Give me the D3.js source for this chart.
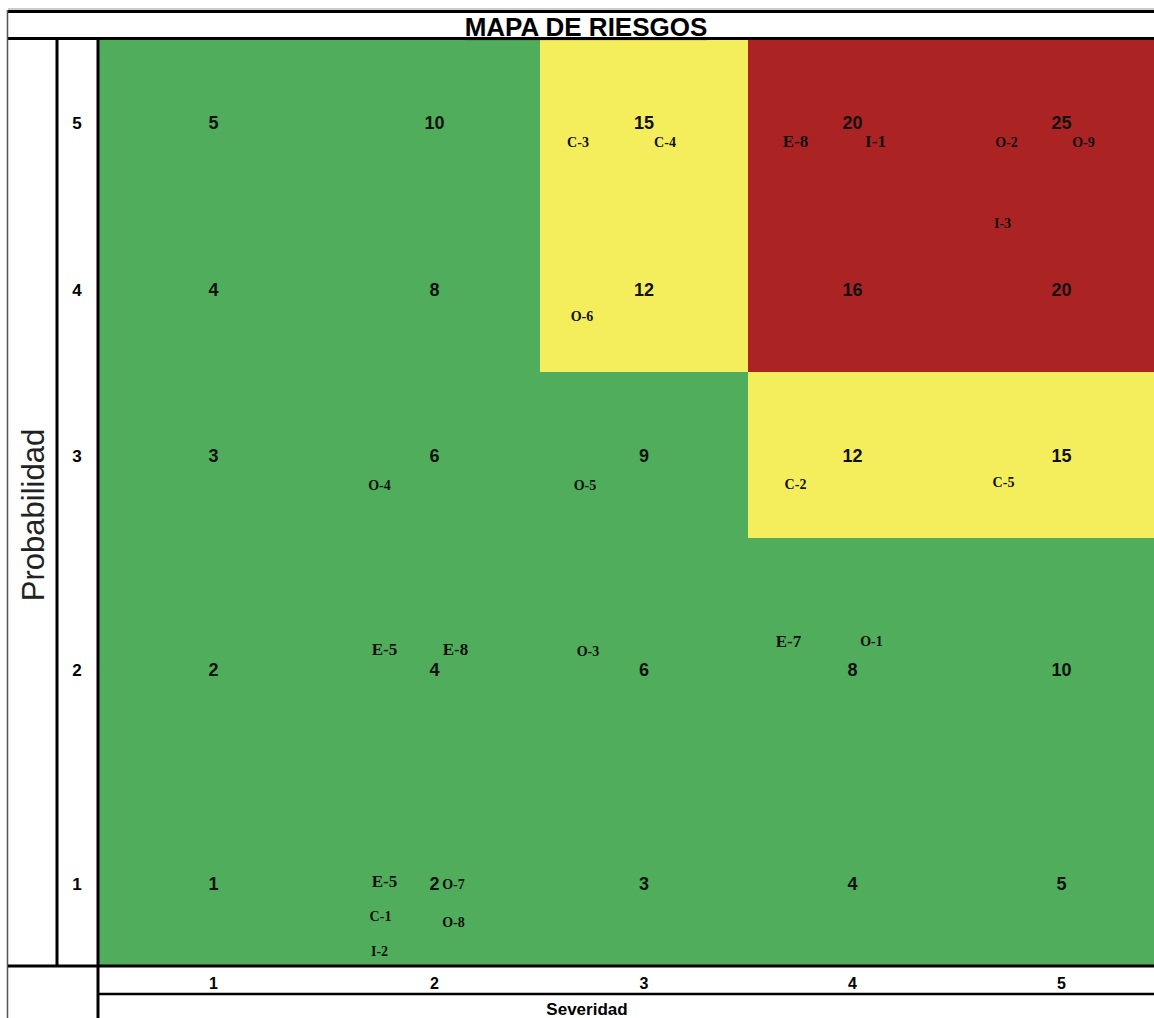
<!DOCTYPE html>
<html>
<head>
<meta charset="utf-8">
<script src="https://cdn.jsdelivr.net/npm/d3@7"></script>
<style>
  html, body { margin: 0; padding: 0; background: #fff; }
  svg { display: block; }
</style>
</head>
<body>
<svg id="chart" width="1154" height="1018"></svg>
<script>
// datos del mapa
var title = 'MAPA DE RIESGOS';
var xTitle = 'Severidad';
var yTitle = 'Probabilidad';
var severities = [1, 2, 3, 4, 5];
var probabilities = [5, 4, 3, 2, 1];   // de arriba a abajo
var zoneLimits = [11, 16];             // <=10 verde, 12-15 amarillo, >=16 rojo

var risks = [
	{code: 'C-3', sev: 3, prob: 5}, {code: 'C-4', sev: 3, prob: 5},
	{code: 'E-8', sev: 4, prob: 5}, {code: 'I-1', sev: 4, prob: 5},
	{code: 'O-2', sev: 5, prob: 5}, {code: 'O-9', sev: 5, prob: 5}, {code: 'I-3', sev: 5, prob: 5},
	{code: 'O-6', sev: 3, prob: 4},
	{code: 'O-4', sev: 2, prob: 3}, {code: 'O-5', sev: 3, prob: 3},
	{code: 'C-2', sev: 4, prob: 3}, {code: 'C-5', sev: 5, prob: 3},
	{code: 'E-5', sev: 2, prob: 2}, {code: 'E-8', sev: 2, prob: 2}, {code: 'O-3', sev: 3, prob: 2},
	{code: 'E-7', sev: 4, prob: 2}, {code: 'O-1', sev: 4, prob: 2},
	{code: 'E-5', sev: 2, prob: 1}, {code: 'O-7', sev: 2, prob: 1}, {code: 'C-1', sev: 2, prob: 1},
	{code: 'O-8', sev: 2, prob: 1}, {code: 'I-2', sev: 2, prob: 1}
];

// layout (same order as risks): offset from the cell number
var labelOffsets = [
	[-66, 19], [21, 19],
	[-57, 18], [23, 18],
	[-55, 19], [22, 19], [-59, 100],
	[-62, 26],
	[-55, 29], [-59, 29],
	[-57, 28], [-58, 26],
	[-50, -21], [21, -21], [-56, -19],
	[-64, -29], [19, -29],
	[-50, -3], [19, 0], [-54, 32],
	[19, 38], [-55, 67]
];
var bigCodes = ['E-5', 'E-7', 'E-8', 'I-1'];

var colWidths = [231, 211, 208, 209, 209];
var rowHeights = [166, 167, 166, 214, 214];
var plotLeft = 98, plotTop = 39, plotBottom = 966;
var W = 1154;

var zoneColors = ['#4fad5b', '#f4ee5c', '#ab2323'];
var sansFont = '"Liberation Sans", Arial, sans-serif';
var serifFont = '"Liberation Serif", Cambria, serif';

var colEdges = [0].concat(Array.from(d3.cumsum(colWidths))).map(function(v) { return plotLeft + v; });
var rowEdges = [0].concat(Array.from(d3.cumsum(rowHeights))).map(function(v) { return plotTop + v; });

var xLeft = d3.scaleOrdinal().domain(severities).range(colEdges.slice(0, 5));
var xWidth = d3.scaleOrdinal().domain(severities).range(colWidths);
var yTop = d3.scaleOrdinal().domain(probabilities).range(rowEdges.slice(0, 5));
var yHeight = d3.scaleOrdinal().domain(probabilities).range(rowHeights);
var zone = d3.scaleThreshold().domain(zoneLimits).range(zoneColors);

function xMid(s) { return xLeft(s) + xWidth(s) / 2; }
function yNum(p) { return yTop(p) + yHeight(p) - 82; }

var svg = d3.select('#chart');

var cells = d3.cross(severities, probabilities).map(function(d) {
	return {sev: d[0], prob: d[1], score: d[0] * d[1]};
});

svg.append('g').selectAll('rect')
	.data(cells)
	.enter()
	.append('rect')
	.attr('x', function(d) { return xLeft(d.sev); })
	.attr('y', function(d) { return yTop(d.prob); })
	.attr('width', function(d) { return xWidth(d.sev) + 0.5; })
	.attr('height', function(d) { return yHeight(d.prob) + 0.5; })
	.attr('fill', function(d) { return zone(d.score); });

svg.append('g').selectAll('text')
	.data(cells)
	.enter()
	.append('text')
	.attr('x', function(d) { return xMid(d.sev); })
	.attr('y', function(d) { return yNum(d.prob); })
	.attr('text-anchor', 'middle')
	.attr('dominant-baseline', 'central')
	.style('font-family', sansFont)
	.style('font-weight', 'bold')
	.style('font-size', '18px')
	.attr('fill', '#111')
	.text(function(d) { return d.score; });

svg.append('g').selectAll('text')
	.data(risks)
	.enter()
	.append('text')
	.attr('x', function(d, i) { return xMid(d.sev) + labelOffsets[i][0]; })
	.attr('y', function(d, i) { return yNum(d.prob) + labelOffsets[i][1]; })
	.attr('text-anchor', 'middle')
	.attr('dominant-baseline', 'central')
	.style('font-family', serifFont)
	.style('font-weight', 'bold')
	.style('font-size', function(d) { return bigCodes.indexOf(d.code) >= 0 ? '17px' : '14px'; })
	.attr('fill', '#111')
	.text(function(d) { return d.code; });

// ejes
svg.append('g').selectAll('text')
	.data(probabilities)
	.enter()
	.append('text')
	.attr('x', 77)
	.attr('y', function(d) { return yNum(d); })
	.attr('text-anchor', 'middle')
	.attr('dominant-baseline', 'central')
	.style('font-family', sansFont)
	.style('font-weight', 'bold')
	.style('font-size', '17px')
	.text(function(d) { return d; });

svg.append('g').selectAll('text')
	.data(severities)
	.enter()
	.append('text')
	.attr('x', function(d) { return xMid(d); })
	.attr('y', 988.5)
	.attr('text-anchor', 'middle')
	.style('font-family', sansFont)
	.style('font-weight', 'bold')
	.style('font-size', '16px')
	.text(function(d) { return d; });

svg.append('text')
	.attr('x', 587)
	.attr('y', 1015)
	.attr('text-anchor', 'middle')
	.style('font-family', sansFont)
	.style('font-weight', 'bold')
	.style('font-size', '17px')
	.text(xTitle);

svg.append('text')
	.attr('transform', 'translate(44,515) rotate(-90)')
	.attr('text-anchor', 'middle')
	.style('font-family', sansFont)
	.style('font-size', '31px')
	.attr('fill', '#222')
	.text(yTitle);

svg.append('text')
	.attr('x', 586)
	.attr('y', 35.5)
	.attr('text-anchor', 'middle')
	.style('font-family', sansFont)
	.style('font-weight', 'bold')
	.style('font-size', '26px')
	.style('text-decoration', 'underline')
	.text(title);

// bordes
var lines = [
	[8, 9, W, 9, 1, '#999'],
	[8, 11.5, W, 11.5, 3, '#000'],
	[8, 38.5, W, 38.5, 3, '#000'],
	[7.5, 10, 7.5, 1018, 1.5, '#555'],
	[57, 39, 57, plotBottom, 3, '#000'],
	[plotLeft, 39, plotLeft, 1018, 3, '#000'],
	[8, plotBottom, W, plotBottom, 3, '#000'],
	[plotLeft, 994, W, 994, 2.5, '#000']
];
svg.append('g').selectAll('line')
	.data(lines)
	.enter()
	.append('line')
	.attr('x1', function(d) { return d[0]; })
	.attr('y1', function(d) { return d[1]; })
	.attr('x2', function(d) { return d[2]; })
	.attr('y2', function(d) { return d[3]; })
	.attr('stroke-width', function(d) { return d[4]; })
	.attr('stroke', function(d) { return d[5]; });
</script>
</body>
</html>
